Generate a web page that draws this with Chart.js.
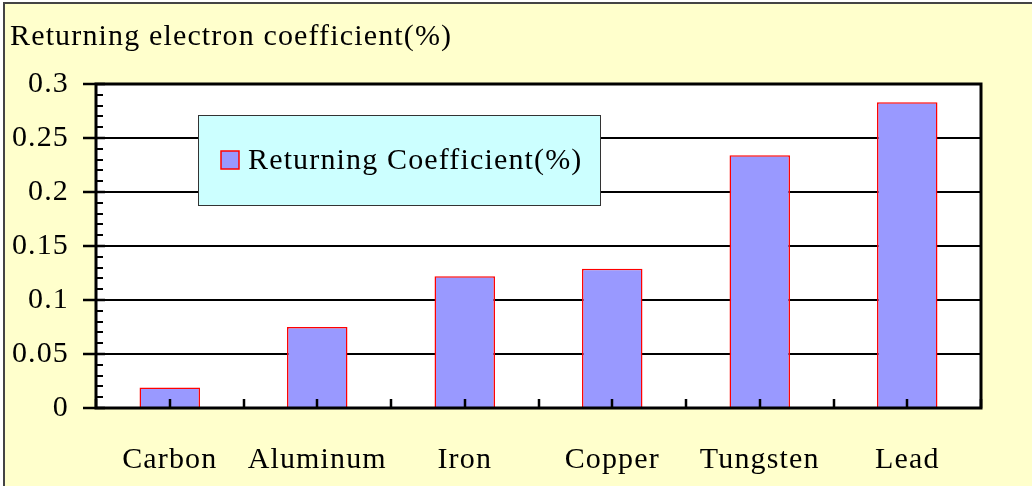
<!DOCTYPE html>
<html>
<head>
<meta charset="utf-8">
<script src="https://cdn.jsdelivr.net/npm/chart.js@4"></script>
<style>
  html, body { margin: 0; padding: 0; background: #fff; }
  #wrap { width: 1032px; height: 486px; }
</style>
</head>
<body>
<div id="wrap"><canvas id="c" width="1032" height="486"></canvas></div>
<script>
/* ---------- data ---------- */
const categories = ["Carbon", "Aluminum", "Iron", "Copper", "Tungsten", "Lead"];
const coefficients = [0.019, 0.075, 0.122, 0.129, 0.234, 0.283];
const seriesName = "Returning Coefficient(%)";
const chartTitle = "Returning electron coefficient(%)";
const yTicks = [0, 0.05, 0.1, 0.15, 0.2, 0.25, 0.3];

const SERIF = "'Liberation Serif', 'DejaVu Serif', serif";
const FONT_SIZE = 30;
const SPACING = "1.15px";

/* ---------- plugin: background, frame, ticks, legend ---------- */
const decor = {
  id: "decor",
  beforeDraw(chart) {
    const { ctx, width, height } = chart;
    ctx.save();
    ctx.fillStyle = "#ffffff";
    ctx.fillRect(0, 0, width, height);
    ctx.fillStyle = "#FFFFCC";
    ctx.fillRect(5, 4, width - 5, height - 4);
    // outer border (only top + left show)
    ctx.strokeStyle = "#444";
    ctx.lineWidth = 2;
    ctx.beginPath();
    ctx.moveTo(4, height);
    ctx.lineTo(4, 3);
    ctx.lineTo(width, 3);
    ctx.stroke();
    // plot area
    const a = chart.chartArea;
    ctx.fillStyle = "#ffffff";
    ctx.fillRect(a.left, a.top, a.right - a.left, a.bottom - a.top);
    ctx.restore();
    // wider letter spacing like the original text
    ctx.letterSpacing = SPACING;
  },
  afterDatasetsDraw(chart) {
    const { ctx } = chart;
    const a = chart.chartArea;
    const y = chart.scales.y;
    ctx.save();
    ctx.strokeStyle = "#000";
    // y minor ticks (inward)
    ctx.lineWidth = 2;
    for (let v = 0; v <= 0.3001; v += 0.01) {
      const py = Math.round(y.getPixelForValue(v));
      ctx.beginPath();
      ctx.moveTo(a.left, py);
      ctx.lineTo(a.left + 7, py);
      ctx.stroke();
    }
    // y major ticks (cross)
    ctx.lineWidth = 2.5;
    yTicks.forEach(v => {
      const py = Math.round(y.getPixelForValue(v));
      ctx.beginPath();
      ctx.moveTo(a.left - 13, py);
      ctx.lineTo(a.left + 9, py);
      ctx.stroke();
    });
    // x ticks at centres and boundaries (inward)
    const n = categories.length;
    const step = (a.right - a.left) / n;
    for (let i = 0; i <= n * 2; i++) {
      const px = Math.round(a.left + i * step / 2);
      ctx.beginPath();
      ctx.moveTo(px, a.bottom);
      ctx.lineTo(px, a.bottom - 9);
      ctx.stroke();
    }
    // frame
    ctx.lineWidth = 3;
    ctx.strokeRect(a.left, a.top, a.right - a.left, a.bottom - a.top);

    // legend box
    const ds = chart.data.datasets[0];
    const lx = 198, ly = 115, lw = 402, lh = 90;
    ctx.fillStyle = "#CCFFFF";
    ctx.fillRect(lx, ly, lw, lh);
    ctx.lineWidth = 1;
    ctx.strokeStyle = "#333";
    ctx.strokeRect(lx + 0.5, ly + 0.5, lw, lh);
    ctx.fillStyle = ds.backgroundColor;
    ctx.fillRect(221, 151, 18, 18);
    ctx.strokeStyle = ds.borderColor;
    ctx.lineWidth = 1.5;
    ctx.strokeRect(221, 151, 18, 18);
    ctx.fillStyle = "#000";
    ctx.font = FONT_SIZE + "px " + SERIF;
    ctx.letterSpacing = SPACING;
    ctx.textBaseline = "middle";
    ctx.textAlign = "left";
    ctx.fillText(ds.label, 248, 161);
    ctx.restore();
  }
};

new Chart(document.getElementById("c"), {
  type: "bar",
  data: {
    labels: categories,
    datasets: [{
      label: seriesName,
      data: coefficients,
      backgroundColor: "#9999FF",
      borderColor: "#FF0000",
      borderWidth: 1.5,
      barPercentage: 0.41,
      categoryPercentage: 1.0
    }]
  },
  options: {
    responsive: false,
    animation: false,
    devicePixelRatio: 1,
    layout: { padding: { left: 10, right: 51, top: 0, bottom: 0 } },
    plugins: {
      legend: { display: false },
      tooltip: { enabled: false },
      title: {
        display: true,
        text: chartTitle,
        align: "start",
        color: "#000",
        font: { family: SERIF, size: FONT_SIZE, weight: "normal" },
        padding: { top: 19, bottom: 29 }
      }
    },
    scales: {
      x: {
        afterFit: s => { s.height = 78; },
        grid: { display: false, drawTicks: false },
        border: { display: false },
        ticks: {
          color: "#000",
          padding: 34,
          maxRotation: 0,
          font: { family: SERIF, size: FONT_SIZE }
        }
      },
      y: {
        min: 0,
        max: 0.3,
        afterFit: s => { s.width = 86; },
        afterBuildTicks: s => { s.ticks = yTicks.map(v => ({ value: v })); },
        grid: { color: "#000", lineWidth: 2, drawTicks: false },
        border: { display: false },
        ticks: {
          color: "#000",
          padding: 27,
          font: { family: SERIF, size: FONT_SIZE },
          callback: v => String(Math.round(v * 100) / 100)
        }
      }
    }
  },
  plugins: [decor]
});
</script>
</body>
</html>
